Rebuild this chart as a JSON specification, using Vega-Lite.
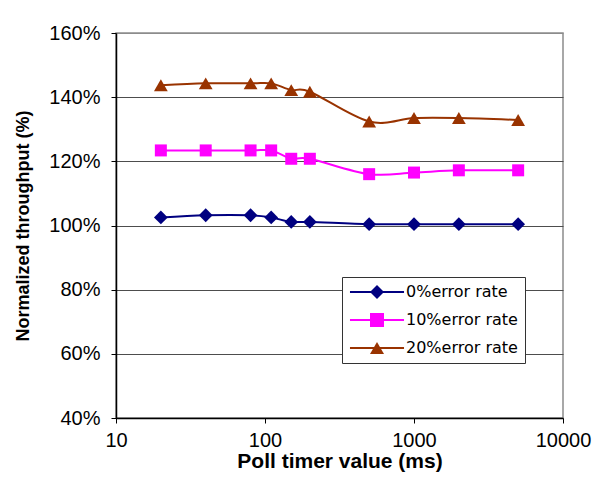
{
  "$schema": "https://vega.github.io/schema/vega-lite/v6.json",
  "width": 447,
  "height": 385,
  "autosize": {"type": "none"},
  "padding": {"left": 116, "top": 33, "right": 31, "bottom": 78},
  "background": "white",
  "config": {
    "view": {"stroke": "#8c8c8c", "strokeWidth": 1.5},
    "font": "Liberation Sans",
    "legend": {
      "title": null,
      "orient": "none",
      "legendX": 226,
      "legendY": 244,
      "padding": 7,
      "rowPadding": 12,
      "labelFont": "DejaVu Sans",
      "labelFontSize": 16,
      "labelColor": "black",
      "symbolSize": 196,
      "symbolOffset": 20,
      "labelOffset": 21
    }
  },
  "data": {
    "values": [
      {"timer": 20, "series": "0%error rate", "throughput": 102.5},
      {"timer": 40, "series": "0%error rate", "throughput": 103.2},
      {"timer": 80, "series": "0%error rate", "throughput": 103.2},
      {"timer": 110, "series": "0%error rate", "throughput": 102.5},
      {"timer": 150, "series": "0%error rate", "throughput": 101.1},
      {"timer": 200, "series": "0%error rate", "throughput": 101.1},
      {"timer": 500, "series": "0%error rate", "throughput": 100.4},
      {"timer": 1000, "series": "0%error rate", "throughput": 100.4},
      {"timer": 2000, "series": "0%error rate", "throughput": 100.4},
      {"timer": 5000, "series": "0%error rate", "throughput": 100.4},
      {"timer": 20, "series": "10%error rate", "throughput": 123.4},
      {"timer": 40, "series": "10%error rate", "throughput": 123.4},
      {"timer": 80, "series": "10%error rate", "throughput": 123.4},
      {"timer": 110, "series": "10%error rate", "throughput": 123.4},
      {"timer": 150, "series": "10%error rate", "throughput": 120.8},
      {"timer": 200, "series": "10%error rate", "throughput": 120.8},
      {"timer": 500, "series": "10%error rate", "throughput": 116.0},
      {"timer": 1000, "series": "10%error rate", "throughput": 116.5},
      {"timer": 2000, "series": "10%error rate", "throughput": 117.2},
      {"timer": 5000, "series": "10%error rate", "throughput": 117.2},
      {"timer": 20, "series": "20%error rate", "throughput": 143.7},
      {"timer": 40, "series": "20%error rate", "throughput": 144.3},
      {"timer": 80, "series": "20%error rate", "throughput": 144.3},
      {"timer": 110, "series": "20%error rate", "throughput": 144.3},
      {"timer": 150, "series": "20%error rate", "throughput": 142.2},
      {"timer": 200, "series": "20%error rate", "throughput": 141.7},
      {"timer": 500, "series": "20%error rate", "throughput": 132.4},
      {"timer": 1000, "series": "20%error rate", "throughput": 133.5},
      {"timer": 2000, "series": "20%error rate", "throughput": 133.5},
      {"timer": 5000, "series": "20%error rate", "throughput": 132.9}
    ]
  },
  "encoding": {
    "x": {
      "field": "timer",
      "type": "quantitative",
      "scale": {"type": "log", "domain": [10, 10000]},
      "axis": {
        "title": "Poll timer value (ms)",
        "values": [10, 100, 1000, 10000],
        "format": "d",
        "grid": false,
        "domainColor": "black",
        "domainWidth": 1.5,
        "tickColor": "black",
        "tickSize": 5,
        "labelFontSize": 20,
        "labelPadding": 7,
        "labelColor": "black",
        "labelFlush": false,
        "titleFontSize": 21,
        "titleFontWeight": "bold",
        "titleColor": "black",
        "titlePadding": 0
      }
    },
    "y": {
      "field": "throughput",
      "type": "quantitative",
      "scale": {"domain": [40, 160]},
      "axis": {
        "title": "Normalized throughput (%)",
        "values": [40, 60, 80, 100, 120, 140, 160],
        "labelExpr": "datum.value + '%'",
        "grid": true,
        "gridColor": {"condition": {"test": "datum.value >= 160", "value": "#8c8c8c"}, "value": "#4d4d4d"},
        "gridWidth": 1.2,
        "domainColor": "black",
        "domainWidth": 1.5,
        "tickColor": "black",
        "tickSize": 5,
        "labelFontSize": 20,
        "labelPadding": 11,
        "labelColor": "black",
        "labelFlush": false,
        "titleFontSize": 18,
        "titleFontWeight": "bold",
        "titleColor": "black",
        "titlePadding": 16
      }
    }
  },
  "layer": [
    {
      "mark": {"type": "line", "interpolate": "cardinal", "strokeWidth": 2},
      "encoding": {
        "stroke": {
          "field": "series",
          "type": "nominal",
          "scale": {"range": ["#000080", "#ff00ff", "#993300"]},
          "legend": {
            "symbolType": "M-3.86,0H3.86",
            "symbolStrokeWidth": 2,
            "fillColor": "white",
            "strokeColor": "#333333",
            "zindex": 1
          }
        }
      }
    },
    {
      "mark": {"type": "point", "filled": true, "opacity": 1},
      "encoding": {
        "color": {
          "field": "series",
          "type": "nominal",
          "scale": {
            "domain": ["0%error rate", "10%error rate", "20%error rate"],
            "range": ["#000080", "#ff00ff", "#993300"]
          },
          "legend": {"labelColor": "transparent", "zindex": 2}
        },
        "shape": {
          "field": "series",
          "type": "nominal",
          "scale": {
            "domain": ["0%error rate", "10%error rate", "20%error rate"],
            "range": ["diamond", "square", "triangle-up"]
          },
          "legend": {"labelColor": "transparent", "zindex": 2}
        },
        "size": {
          "condition": [
            {"test": "datum.series === '0%error rate'", "value": 190},
            {"test": "datum.series === '10%error rate'", "value": 144}
          ],
          "value": 190
        }
      }
    }
  ]
}
